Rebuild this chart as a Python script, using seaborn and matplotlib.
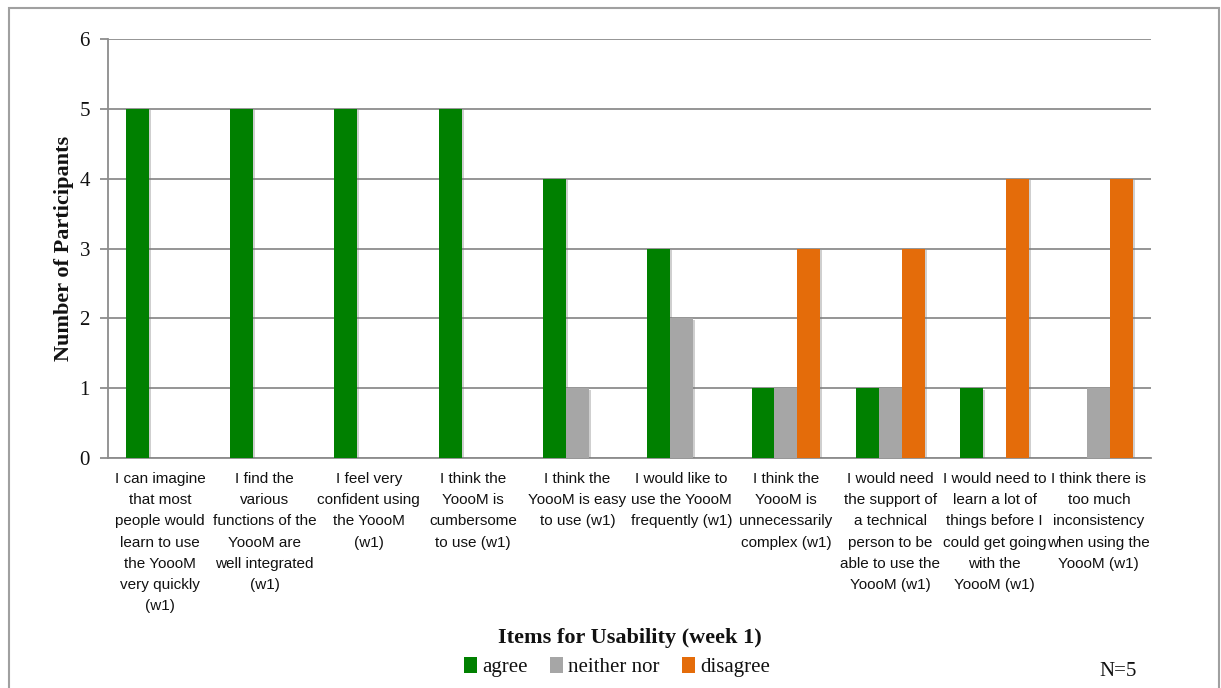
import matplotlib
matplotlib.use("Agg")
import matplotlib.pyplot as plt
import matplotlib.patheffects as pe
from matplotlib.patches import Patch, Rectangle
import pandas as pd
import seaborn as sns

# Questionnaire items (week 1) with their wrapped axis labels
items = [
    "I can imagine\nthat most\npeople would\nlearn to use\nthe YoooM\nvery quickly\n(w1)",
    "I find the\nvarious\nfunctions of the\nYoooM are\nwell integrated\n(w1)",
    "I feel very\nconfident using\nthe YoooM\n(w1)",
    "I think the\nYoooM is\ncumbersome\nto use (w1)",
    "I think the\nYoooM is easy\nto use (w1)",
    "I would like to\nuse the YoooM\nfrequently (w1)",
    "I think the\nYoooM is\nunnecessarily\ncomplex (w1)",
    "I would need\nthe support of\na technical\nperson to be\nable to use the\nYoooM (w1)",
    "I would need to\nlearn a lot of\nthings before I\ncould get going\nwith the\nYoooM (w1)",
    "I think there is\ntoo much\ninconsistency\nwhen using the\nYoooM (w1)",
]
responses = ["agree", "neither nor", "disagree"]
agree = [5, 5, 5, 5, 4, 3, 1, 1, 1, 0]
neither_nor = [0, 0, 0, 0, 1, 2, 1, 1, 0, 1]
disagree = [0, 0, 0, 0, 0, 0, 3, 3, 4, 4]
colors = ["#008000", "#A6A6A6", "#E46C0A"]

df = pd.DataFrame({
    "item": items * 3,
    "response": [responses[0]] * 10 + [responses[1]] * 10 + [responses[2]] * 10,
    "count": agree + neither_nor + disagree,
})

serif = ["Liberation Serif", "DejaVu Serif"]
sans = ["Liberation Sans", "DejaVu Sans"]
grid_c = "#8C8C8C"
ink = "#111111"

sns.set_theme(style="white")
fig = plt.figure(figsize=(12.21, 6.88), dpi=100)
ax = fig.add_axes([108 / 1221, 1 - 458 / 688, (1151 - 108) / 1221, (458 - 39) / 688])

sns.barplot(data=df, x="item", y="count", hue="response", hue_order=responses,
            order=items, palette=colors, width=0.66, gap=0, saturation=1,
            errorbar=None, legend=False, ax=ax, zorder=3)

shadow = [pe.SimplePatchShadow(offset=(1.5, -1), shadow_rgbFace="#777777", alpha=0.35),
          pe.Normal()]
for bar in ax.patches:
    bar.set_linewidth(0)
    if bar.get_height() > 0:
        bar.set_path_effects(shadow)

ax.set_ylim(0, 6)
ax.set_xlim(-0.5, len(items) - 0.5)
ax.set_yticks(range(0, 7))
ax.yaxis.grid(True, color=grid_c, linewidth=1.3, zorder=0)
ax.set_axisbelow(True)
for side in ["top", "right"]:
    ax.spines[side].set_visible(False)
for side in ["left", "bottom"]:
    ax.spines[side].set_color(grid_c)
    ax.spines[side].set_linewidth(1.3)

ax.tick_params(axis="y", length=6, width=1.3, color=grid_c, left=True, pad=7)
ax.tick_params(axis="x", length=0, pad=10)
for lbl in ax.get_yticklabels():
    lbl.set_fontfamily(serif)
    lbl.set_fontsize(15)
    lbl.set_color(ink)
for lbl in ax.get_xticklabels():
    lbl.set_fontfamily(sans)
    lbl.set_fontsize(11)
    lbl.set_linespacing(1.66)
    lbl.set_color(ink)
    lbl.set_verticalalignment("top")

ax.set_xlabel("")
ax.set_ylabel("Number of Participants", fontfamily=serif, fontsize=16,
              fontweight="bold", color=ink, labelpad=4)

fig.text(630 / 1221, 1 - 638 / 688, "Items for Usability (week 1)", ha="center",
         va="center", fontfamily=serif, fontsize=16, fontweight="bold", color=ink)

handles = [Patch(facecolor=c, edgecolor="none", label=r) for c, r in zip(colors, responses)]
leg = fig.legend(handles=handles, loc="center", bbox_to_anchor=(617 / 1221, 1 - 667 / 688),
                 ncol=3, frameon=False, handlelength=0.6, handleheight=0.8,
                 handletextpad=0.25, columnspacing=1.1,
                 prop={"family": serif, "size": 15})
for t in leg.get_texts():
    t.set_color(ink)

fig.text(1118 / 1221, 1 - 671 / 688, "N=5", ha="center", va="center",
         fontfamily=serif, fontsize=15, color=ink)

# Outer frame around the chart
fig.patches.append(Rectangle((9 / 1221, -0.02), (1219 - 9) / 1221, (688 - 8) / 688 + 0.02,
                             transform=fig.transFigure, fill=False,
                             edgecolor="#A0A0A0", linewidth=1.5, zorder=0))

fig.savefig("out.png", dpi=100)
